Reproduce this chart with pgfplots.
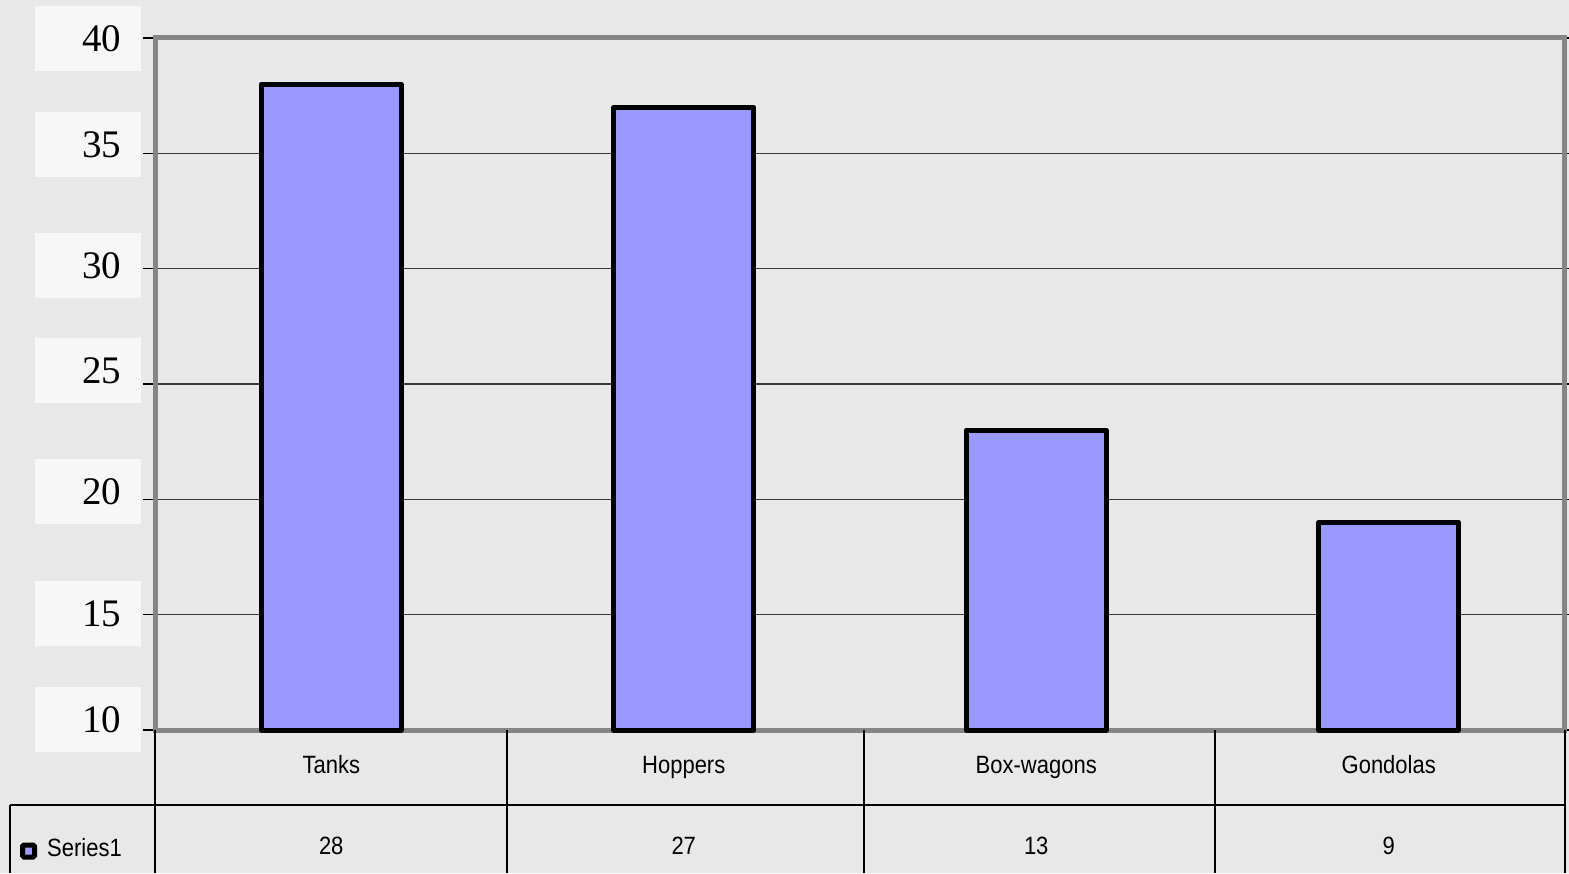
\documentclass[border=0pt]{standalone}
\usepackage{pgfplots}
\pgfplotsset{compat=1.18}
\usepackage{pgfplotstable}
\usepackage{fontspec}
\setmainfont{Liberation Sans}[FakeStretch=0.88]
\newfontfamily\numfont{Liberation Serif}

\definecolor{barblue}{HTML}{9999FF}
\definecolor{bggrey}{HTML}{E8E8E8}
\definecolor{framegrey}{HTML}{868686}
\definecolor{gridgrey}{HTML}{3A3A3A}
\definecolor{boxwhite}{HTML}{F7F7F7}

% wagons by type
\pgfplotstableread{
idx count
0   28
1   27
2   13
3   9
}\wagons

\newcommand{\tablefont}{\fontsize{25}{30}\selectfont}

\begin{document}
\begin{tikzpicture}[x=1pt,y=1pt]
\fill[bggrey] (0,0) rectangle (1569,873);
\path[use as bounding box] (0,0) rectangle (1569,873);

\begin{axis}[
  at={(155pt,143pt)}, anchor=south west,
  scale only axis, width=1410pt, height=692pt,
  xmin=-0.5, xmax=3.5, ymin=0, ymax=30,
  ybar, bar width=140pt,
  xtick={0,1,2,3},
  xticklabels={Tanks,Hoppers,Box-wagons,Gondolas},
  x tick style={draw=none},
  xticklabel style={anchor=base, yshift=-31pt, font=\tablefont},
  ytick={0,5,...,30}, yticklabels={},
  ymajorgrids, grid style={gridgrey, line width=1.5pt},
  tick align=outside, major tick length=12pt,
  y tick style={black, line width=1.5pt},
  axis line style={framegrey, line width=5pt},
  clip=false,
]
\addplot[fill=barblue, draw=black, line width=5pt, line join=round]
  table[x=idx, y=count] {\wagons};

% value row of the data table
\node[anchor=base, font=\tablefont] at (axis cs:0,0) [yshift=-124pt] {28};
\node[anchor=base, font=\tablefont] at (axis cs:1,0) [yshift=-124pt] {27};
\node[anchor=base, font=\tablefont] at (axis cs:2,0) [yshift=-124pt] {13};
\node[anchor=base, font=\tablefont] at (axis cs:3,0) [yshift=-124pt] {9};
\end{axis}

% data table grid
\begin{scope}[black, line width=1.5pt]
  \draw (10,68) -- (1565,68);
  \draw (10,0) -- (10,68);
  \foreach \xx in {155,507,864,1215,1565} \draw (\xx,0) -- (\xx,143);
\end{scope}

% legend key
\draw[black, fill=barblue, line width=5pt, rounded corners=1.5pt] (22.5,16) rectangle (34.5,28);
\node[anchor=base west, inner sep=0pt, font=\tablefont] at (47,17) {Series1};

% axis label boxes
\tikzset{ylab/.style={fill=boxwhite, minimum height=65pt, text width=66pt,
  align=right, inner xsep=20pt, inner ysep=0pt,
  font=\numfont\fontsize{39}{39}\selectfont}}
\node[ylab] at (88,834.5) {40};
\node[ylab] at (88,728.5) {35};
\node[ylab] at (88,607.5) {30};
\node[ylab] at (88,502)   {25};
\node[ylab] at (88,381)   {20};
\node[ylab] at (88,259.5) {15};
\node[ylab] at (88,153.5) {10};
\end{tikzpicture}
\end{document}
